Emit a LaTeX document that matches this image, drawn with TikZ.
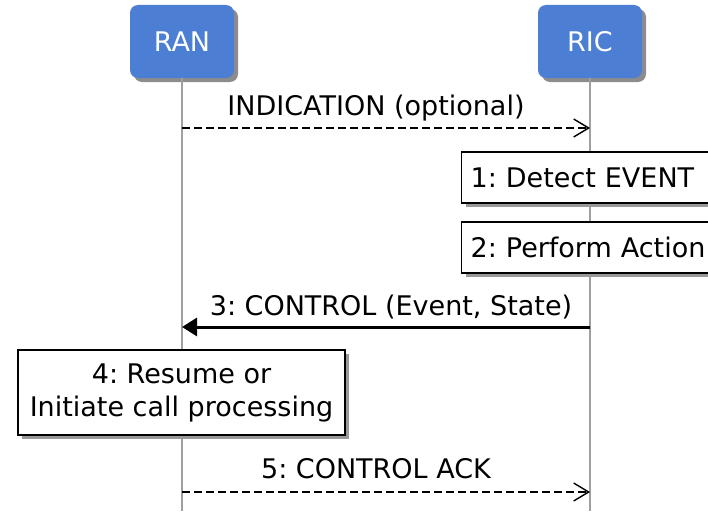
\documentclass[tikz,border=0pt]{standalone}
\usepackage{fontspec}
\setmainfont{DejaVu Sans}
\usetikzlibrary{arrows.meta,shadows,positioning}
\definecolor{headblue}{RGB}{76,126,212}
\definecolor{lifegray}{RGB}{160,160,160}
\frenchspacing
\tikzset{
  party/.style={rounded corners=8pt, fill=headblue, text=white, minimum width=104pt, minimum height=73pt, inner sep=0pt,
    drop shadow={shadow xshift=4pt, shadow yshift=-4pt, fill=black!45, opacity=1}},
  lifeline/.style={draw=lifegray, line width=1.2pt},
  actbox/.style={draw, line width=1.3pt, fill=white, inner xsep=9pt, inner ysep=0pt, minimum height=51pt,
    drop shadow={shadow xshift=4pt, shadow yshift=-4pt, fill=black!40, opacity=1}},
  msgdash/.style={dash pattern=on 8pt off 4pt, line width=2.6pt, -{Straight Barb[length=15pt,width=18pt,line width=1.4pt]}},
  msgsolid/.style={line width=3pt, -{Triangle[length=15pt,width=18pt]}},
  lbl/.style={anchor=base, inner sep=0pt}
}
\begin{document}
\begin{tikzpicture}[x=1pt, y=-1pt, every node/.style={font=\fontsize{27}{33}\selectfont}]
	\useasboundingbox (0,0) rectangle (708,511);
	\clip (0,0) rectangle (708,511);
	% heads and lifelines
	\node[party] (ran) at (182,41.5) {RAN};
	\node[party] (ric) at (590,41.5) {RIC};
	\draw[lifeline] (ran.south) -- (ran.south |- 0,511);
	\draw[lifeline] (ric.south) -- (ric.south |- 0,511);
	\foreach \m/\y in {ind/128, ctl/327, ack/492} {
		\coordinate (\m-ran) at (ran |- 0,\y);
		\coordinate (\m-ric) at (ric |- 0,\y);
	}
	% messages and actions
	\draw[msgdash] (ind-ran) -- (ind-ric);
	\node[lbl] (indlbl) at (376,115) {INDICATION (optional)};
	\node[actbox, anchor=west, text width=260pt, align=left] (detect) at (461,177.5) {1: Detect EVENT};
	\node[actbox, anchor=west, text width=260pt, align=left] (perform) at (461,247.5) {2: Perform Action};
	\draw[msgsolid] (ctl-ric) -- (ctl-ran);
	\node[lbl] (ctllbl) at (391,315) {3: CONTROL (Event, State)};
	\node[actbox, align=center, minimum width=327pt, minimum height=85pt] (resume) at (181.5,392.5) {4: Resume or\\Initiate call processing};
	\draw[msgdash] (ack-ran) -- (ack-ric);
	\node[lbl] (acklbl) at (376,478) {5: CONTROL ACK};
\end{tikzpicture}
\end{document}
